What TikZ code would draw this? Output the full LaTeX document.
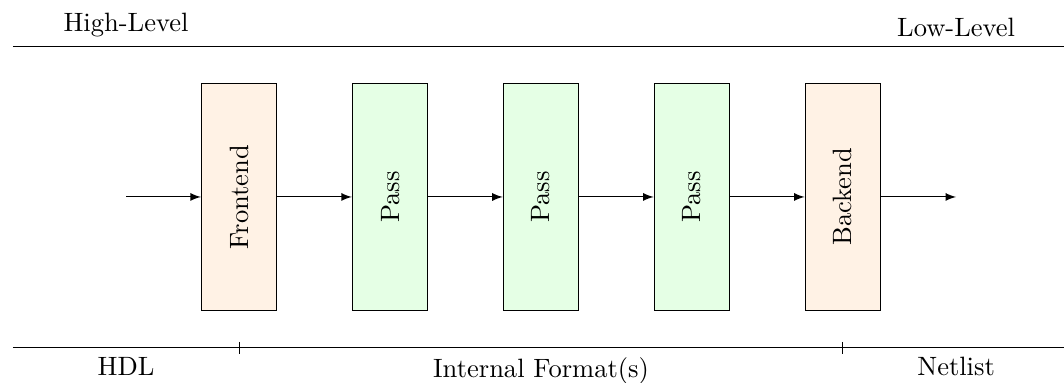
\documentclass[tikz,border=0pt]{standalone}
\usepackage{tikz}
\usepackage{amsmath}

\begin{document}
\begin{tikzpicture}
	\useasboundingbox (-3.17,-2.46) rectangle (10.93,2.61);
	
	% LEVELS
	\draw (-3.0, 2) to (10.93, 2);
	\path (-1.5, 2) node[above] (high) {High-Level};
	\path (9.5, 2) node[above] (low) {Low-Level};
	
	% STAGES
	\tikzstyle{every node}=[rectangle, draw=black, minimum width=1cm, minimum height=3cm, inner sep=0mm]
	\path (0, 0) node[fill=orange!10] (fe) {\rotatebox{90}{Frontend}};
	\path (2, 0) node[fill=green!10] (p1) {\rotatebox{90}{Pass}};
	\path (4, 0) node[fill=green!10] (p2) {\rotatebox{90}{Pass}};
	\path (6, 0) node[fill=green!10] (p3) {\rotatebox{90}{Pass}};
	\path (8, 0) node[fill=orange!10] (be) {\rotatebox{90}{Backend}};
	\tikzstyle{every node}=[]
	\coordinate (in) at (-1.5, 0);
	\coordinate (out) at (9.5, 0);
	\draw[-latex] (in)--(fe);
	\draw[-latex] (fe)--(p1);
	\draw[-latex] (p1)--(p2);
	\draw[-latex] (p2)--(p3);
	\draw[-latex] (p3)--(be);
	\draw[-latex] (be)--(out);
	
	% FORMATS
	\draw (-3.0, -2) to (10.93, -2);
	\draw (0, -1.92) to (0, -2.08);
	\draw (8, -1.92) to (8, -2.08);
	\path (-1.5, -2) node[below] (hdl) {HDL};
	\path (4, -2) node[below] (ir) {Internal Format(s)};
	\path (9.5, -2) node[below] (net) {Netlist};
\end{tikzpicture}
\end{document}
